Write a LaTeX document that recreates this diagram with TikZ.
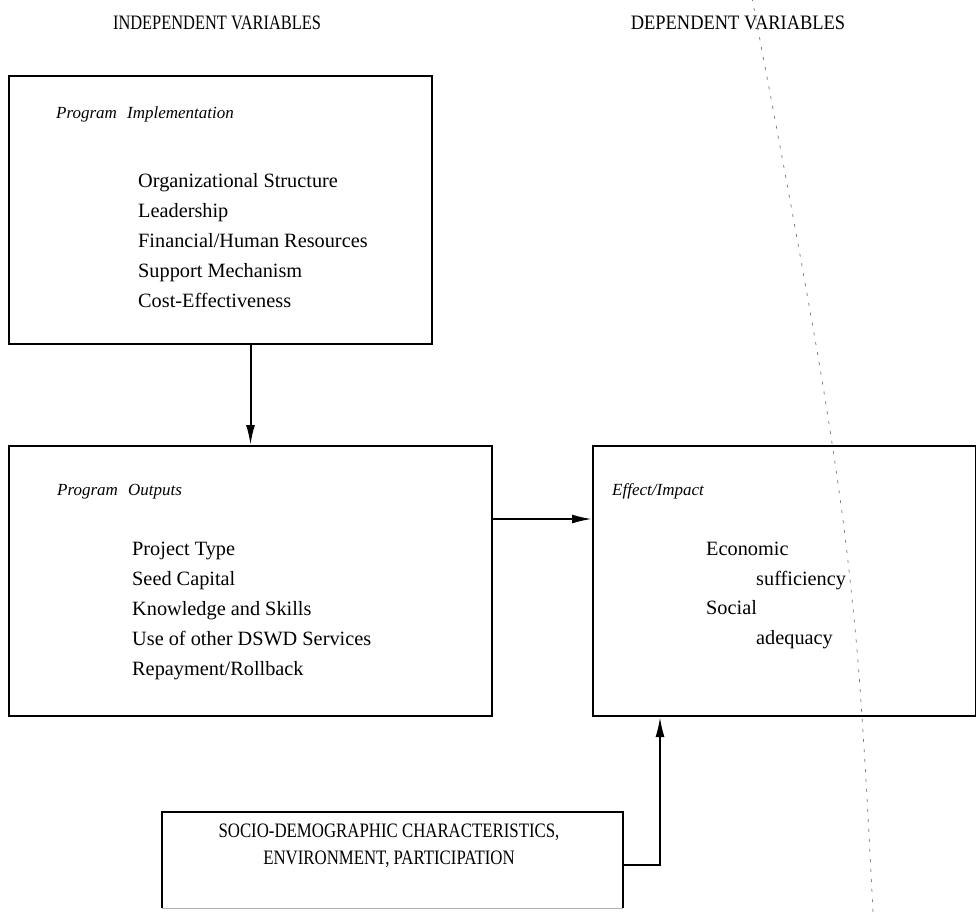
\documentclass[tikz,border=0pt]{standalone}
\usepackage{fontspec}
\usepackage{graphicx}
\setmainfont{Liberation Serif}
\usetikzlibrary{arrows.meta}
\newcommand{\narrow}[2]{\scalebox{#1}[1]{#2}}
\begin{document}
\begin{tikzpicture}[x=1pt,y=-1pt,
  box/.style={draw, line width=2pt, inner sep=0pt, anchor=north west},
  body/.style={anchor=base west, inner sep=0pt, font=\fontsize{20.3}{30}\selectfont},
  ttl/.style={anchor=base west, inner sep=0pt, font=\fontsize{17}{22}\selectfont\itshape},
  head/.style={anchor=base, inner sep=0pt, font=\fontsize{20.5}{24}\selectfont},
  caps/.style={anchor=base, inner sep=0pt, font=\fontsize{20.5}{24}\selectfont},
  arr/.style={line width=2pt, -{Latex[length=20pt,width=9pt]}},
  fold/.style={black!55, line width=0.7pt, dash pattern=on 3pt off 7pt}]
\useasboundingbox (0,0) rectangle (976,911);
\clip (0,0) rectangle (976,911);

% headings
\node[head] (hind) at (217,29) {\narrow{0.8}{INDEPENDENT VARIABLES}};
\node[head] (hdep) at (738,29) {\narrow{0.9}{DEPENDENT VARIABLES}};

% boxes
\node[box, minimum width=423pt, minimum height=268pt] (impl) at (8,75) {};
\node[box, minimum width=483pt, minimum height=270pt] (outp) at (8,445) {};
\node[box, minimum width=383pt, minimum height=270pt] (eff) at (592,445) {};
\node[anchor=north west, inner sep=0pt, minimum width=461pt, minimum height=96pt] (soc) at (162,812) {};
\draw[line width=2pt] (soc.south west) -- (soc.north west) -- (soc.north east) -- (soc.south east);
\draw[line width=1pt, black!30] (soc.south west) -- (soc.south east);

% Program Implementation
\node[ttl] (t1) at (56,118) {Program\hspace{0.6em}Implementation};
\node[body] (i1) at (138,187) {Organizational Structure};
\node[body] (i2) at (138,217) {Leadership};
\node[body] (i3) at (138,247) {Financial/Human Resources};
\node[body] (i4) at (138,277) {Support Mechanism};
\node[body] (i5) at (138,307) {Cost-Effectiveness};

% Program Outputs
\node[ttl] (t2) at (57,495) {Program\hspace{0.6em}Outputs};
\node[body] (o1) at (132,555) {Project Type};
\node[body] (o2) at (132,585) {Seed Capital};
\node[body] (o3) at (132,615) {Knowledge and Skills};
\node[body] (o4) at (132,645) {Use of other DSWD Services};
\node[body] (o5) at (132,675) {Repayment/Rollback};

% Effect/Impact
\node[ttl] (t3) at (612,495) {Effect/Impact};
\node[body] (e1) at (706,555) {Economic};
\node[body] (e2) at (756,585) {sufficiency};
\node[body] (e3) at (706,614) {Social};
\node[body] (e4) at (756,644) {adequacy};

% Socio-demographic
\node[caps] (s1) at (389,837) {\narrow{0.82}{SOCIO-DEMOGRAPHIC CHARACTERISTICS,}};
\node[caps] (s2) at (389,864) {\narrow{0.82}{ENVIRONMENT, PARTICIPATION}};

% connectors
\coordinate (ay) at (0,519);
\coordinate (ux) at (660,0);
\coordinate (cy) at (0,865);
\draw[arr] (outp.north |- impl.south) -- (outp.north);
\draw[arr] (outp.east |- ay) -- (eff.west |- ay);
\draw[arr] (soc.east |- cy) -| (eff.south -| ux);

% fold line
\draw[fold] plot[smooth] coordinates {(752,-2) (790,200) (822,380) (843,520) (857,650) (866,780) (873,913)};
\end{tikzpicture}
\end{document}
